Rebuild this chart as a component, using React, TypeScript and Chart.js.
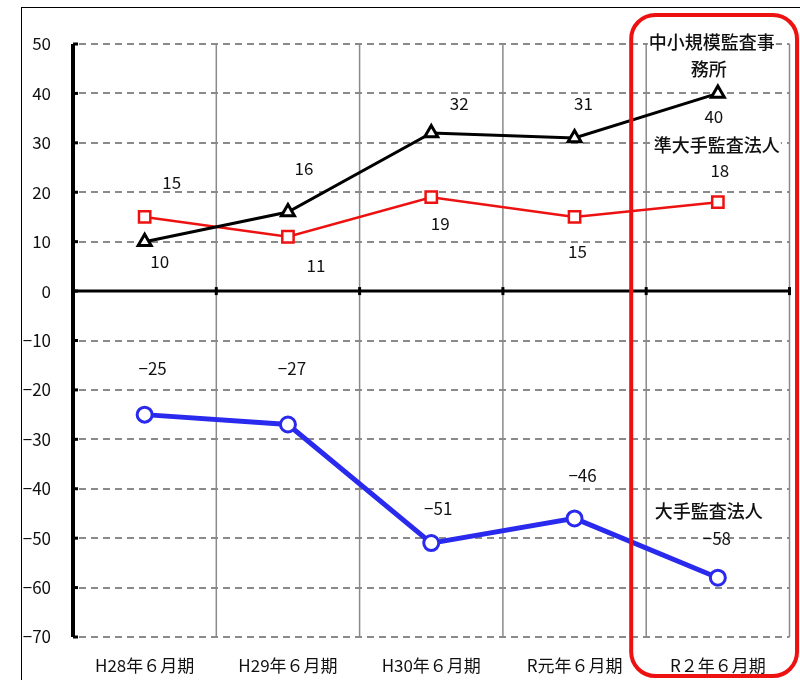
import React, { useEffect, useRef } from "react";
import { Chart, registerables } from "chart.js";

Chart.register(...registerables);

const categories = ["H28年６月期", "H29年６月期", "H30年６月期", "R元年６月期", "R２年６月期"];
const smallFirms = [10, 16, 32, 31, 40];
const midTier = [15, 11, 19, 15, 18];
const bigFirms = [-25, -27, -51, -46, -58];
const seriesNames = ["中小規模監査事務所", "準大手監査法人", "大手監査法人"];
const yMin = -70;
const yMax = 50;
const yStep = 10;

const FONT = "'Liberation Sans Narrow', 'Noto Sans CJK JP', sans-serif";
const JP_FONT = "'Noto Sans CJK JP', sans-serif";

// label offsets (px) relative to each point, per dataset
const labelOffsets: number[][][] = [
  [[15, 20], [16, -43], [28, -29], [9, -34], [-4, 23]],
  [[27, -34], [28, 29], [9, 26], [3, 35], [2, -32]],
  [[8, -46], [4, -56], [7, -35], [8, -43], [-1, -39]],
];

const minus = (v: number) => (v < 0 ? "−" + Math.abs(v) : String(v));

const decorPlugin = {
  id: "decor",
  beforeDatasetsDraw(chart: any) {
    const { ctx, chartArea: a, scales } = chart;
    const y = scales.y;
    ctx.save();
    ctx.strokeStyle = "#8a8a8a";
    ctx.lineWidth = 1.5;
    const n = categories.length;
    for (let i = 1; i <= n; i++) {
      const px = a.left + ((a.right - a.left) * i) / n;
      ctx.beginPath();
      ctx.moveTo(px, a.top);
      ctx.lineTo(px, a.bottom);
      ctx.stroke();
    }
    ctx.setLineDash([7, 5]);
    ctx.lineWidth = 2;
    ctx.strokeStyle = "#8a8a8a";
    for (let v = yMin; v <= yMax; v += yStep) {
      if (v === 0) continue;
      const py = Math.round(y.getPixelForValue(v));
      ctx.beginPath();
      ctx.moveTo(a.left + 6, py);
      ctx.lineTo(a.right, py);
      ctx.stroke();
    }
    ctx.setLineDash([]);
    ctx.strokeStyle = "#000";
    ctx.lineWidth = 4;
    ctx.beginPath();
    ctx.moveTo(a.left, a.top);
    ctx.lineTo(a.left, a.bottom);
    ctx.stroke();
    ctx.lineWidth = 3;
    for (let v = yMin; v <= yMax; v += yStep) {
      const py = y.getPixelForValue(v);
      ctx.beginPath();
      ctx.moveTo(a.left, py);
      ctx.lineTo(a.left + 5, py);
      ctx.stroke();
    }
    const zy = y.getPixelForValue(0);
    ctx.lineWidth = 3;
    ctx.beginPath();
    ctx.moveTo(a.left, zy);
    ctx.lineTo(a.right, zy);
    ctx.stroke();
    for (let i = 1; i <= n; i++) {
      const px = a.left + ((a.right - a.left) * i) / n;
      ctx.beginPath();
      ctx.moveTo(px, zy - 4);
      ctx.lineTo(px, zy + 4);
      ctx.stroke();
    }
    ctx.restore();
  },
  afterDatasetsDraw(chart: any) {
    const { ctx } = chart;
    ctx.save();
    ctx.textAlign = "center";
    ctx.textBaseline = "middle";
    ctx.fillStyle = "#111";
    ctx.font = `17px ${FONT}`;
    chart.data.datasets.forEach((ds: any, di: number) => {
      const meta = chart.getDatasetMeta(di);
      meta.data.forEach((pt: any, i: number) => {
        const off = labelOffsets[di][i];
        ctx.fillText(minus(ds.data[i]), pt.x + off[0], pt.y + off[1]);
      });
    });
    const drawName = (text: string, cx: number, cy: number) => {
      ctx.font = `500 18px ${JP_FONT}`;
      const w = ctx.measureText(text).width;
      ctx.fillStyle = "#fff";
      ctx.fillRect(cx - w / 2 - 1, cy - 10, w + 2, 20);
      ctx.fillStyle = "#111";
      ctx.fillText(text, cx, cy);
    };
    const last = categories.length - 1;
    const p0 = chart.getDatasetMeta(0).data[last];
    const p1 = chart.getDatasetMeta(1).data[last];
    const p2 = chart.getDatasetMeta(2).data[last];
    drawName(seriesNames[0].slice(0, 7), p0.x - 6, p0.y - 51);
    drawName(seriesNames[0].slice(7), p0.x - 9, p0.y - 24);
    drawName(seriesNames[1], p1.x - 1, p1.y - 57);
    drawName(seriesNames[2], p2.x - 9, p2.y - 67);
    ctx.restore();
  },
  afterDraw(chart: any) {
    const { ctx, chartArea: a } = chart;
    ctx.save();
    ctx.strokeStyle = "#000";
    ctx.lineWidth = 1;
    ctx.strokeRect(21.5, 7.5, 820, 700);
    const n = categories.length;
    const bx = a.left + ((a.right - a.left) * (n - 1)) / n;
    const left = bx - 15;
    const top = 15;
    const right = 797;
    const bottom = 676;
    const r = 24;
    ctx.strokeStyle = "#ee1111";
    ctx.lineWidth = 4;
    ctx.beginPath();
    ctx.moveTo(left + r, top);
    ctx.lineTo(right - r, top);
    ctx.arcTo(right, top, right, top + r, r);
    ctx.lineTo(right, bottom - r);
    ctx.arcTo(right, bottom, right - r, bottom, r);
    ctx.lineTo(left + r, bottom);
    ctx.arcTo(left, bottom, left, bottom - r, r);
    ctx.lineTo(left, top + r);
    ctx.arcTo(left, top, left + r, top, r);
    ctx.closePath();
    ctx.stroke();
    ctx.restore();
  },
};

export default function App() {
  const ref = useRef<HTMLCanvasElement | null>(null);
  useEffect(() => {
    if (!ref.current) return;
    const chart = new Chart(ref.current, {
      type: "line",
      data: {
        labels: categories,
        datasets: [
          {
            label: seriesNames[0],
            data: smallFirms,
            borderColor: "#000",
            borderWidth: 3,
            pointStyle: "triangle",
            pointRadius: 7.5,
            pointBackgroundColor: "#fff",
            pointBorderColor: "#000",
            pointBorderWidth: 3,
            tension: 0,
          },
          {
            label: seriesNames[1],
            data: midTier,
            borderColor: "#ee1111",
            borderWidth: 2.5,
            pointStyle: "rect",
            pointRadius: 8,
            pointBackgroundColor: "#fff",
            pointBorderColor: "#ee1111",
            pointBorderWidth: 2.5,
            tension: 0,
          },
          {
            label: seriesNames[2],
            data: bigFirms,
            borderColor: "#2a2aee",
            borderWidth: 5,
            pointStyle: "circle",
            pointRadius: 7.5,
            pointBackgroundColor: "#fff",
            pointBorderColor: "#2a2aee",
            pointBorderWidth: 3,
            tension: 0,
          },
        ],
      },
      options: {
        animation: false,
        responsive: false,
        maintainAspectRatio: false,
        layout: { padding: { top: 44, right: 9, left: 0, bottom: 0 } },
        plugins: { legend: { display: false }, tooltip: { enabled: false } },
        scales: {
          x: {
            type: "category",
            offset: true,
            grid: { display: false },
            border: { display: false },
            ticks: {
              color: "#111",
              font: { size: 17, family: FONT },
              padding: 10,
              maxRotation: 0,
              autoSkip: false,
            },
            afterFit: (s: any) => {
              s.height = 43;
            },
          },
          y: {
            min: yMin,
            max: yMax,
            grid: { display: false },
            border: { display: false },
            ticks: {
              stepSize: yStep,
              color: "#111",
              font: { size: 17, family: FONT },
              padding: 14,
              callback: (v: any) => minus(Number(v)),
            },
            afterFit: (s: any) => {
              s.width = 73;
            },
          },
        },
      },
      plugins: [decorPlugin],
    });
    return () => chart.destroy();
  }, []);
  return (
    <div style={{ position: "absolute", left: 0, top: 0, width: 800, height: 680, background: "#fff" }}>
      <canvas ref={ref} width={800} height={680} style={{ display: "block" }} />
    </div>
  );
}
